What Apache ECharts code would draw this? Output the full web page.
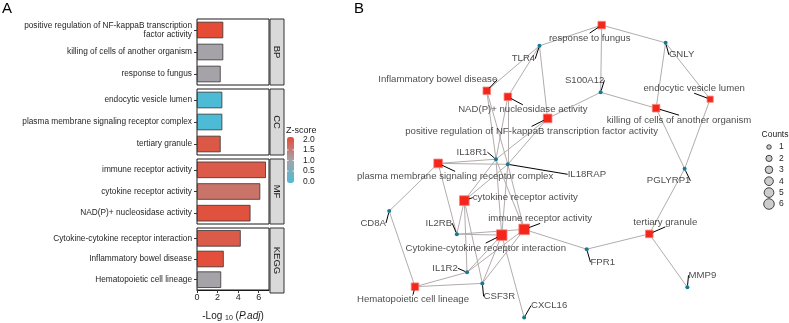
<!DOCTYPE html>
<html>
<head>
<meta charset="utf-8">
<script src="https://cdn.jsdelivr.net/npm/echarts@6/dist/echarts.min.js"></script>
<style>html,body{margin:0;padding:0;background:#fff}#chart{width:789px;height:323px}</style>
</head>
<body>
<div id="chart"></div>
<script>
// ---- panel A: enrichment bars ----
var facets = ['BP', 'CC', 'MF', 'KEGG']
var bpTerms = ['positive regulation of NF-kappaB transcription factor activity', 'killing of cells of another organism', 'response to fungus']
var bpLogP = [2.55, 2.55, 2.3]
var bpZ = [2.0, 1.0, 1.0]
var ccTerms = ['endocytic vesicle lumen', 'plasma membrane signaling receptor complex', 'tertiary granule']
var ccLogP = [2.46, 2.46, 2.3]
var ccZ = [0.0, 0.0, 1.85]
var mfTerms = ['immune receptor activity', 'cytokine receptor activity', 'NAD(P)+ nucleosidase activity']
var mfLogP = [6.7, 6.15, 5.2]
var mfZ = [1.83, 1.55, 1.92]
var keggTerms = ['Cytokine-cytokine receptor interaction', 'Inflammatory bowel disease', 'Hematopoietic cell lineage']
var keggLogP = [4.25, 2.6, 2.35]
var keggZ = [1.82, 1.95, 1.0]
var xTicks = [0, 2, 4, 6]
var zTicks = [0.0, 0.5, 1.0, 1.5, 2.0]
var countLevels = [1, 2, 3, 4, 5, 6]

// ---- panel B: term-gene network (layout coordinates) ----
var termNodes = ['response to fungus', 'Inflammatory bowel disease', 'NAD(P)+ nucleosidase activity',
  'positive regulation of NF-kappaB transcription factor activity', 'killing of cells of another organism',
  'endocytic vesicle lumen', 'plasma membrane signaling receptor complex', 'cytokine receptor activity',
  'immune receptor activity', 'Cytokine-cytokine receptor interaction', 'Hematopoietic cell lineage', 'tertiary granule']
var termPos = [[65.2, 98.3], [31.4, 76.4], [37.6, 74.4], [49.3, 67.2], [81.2, 70.6], [97.1, 73.6],
  [17.1, 52.2], [24.8, 39.8], [42.4, 30.2], [35.8, 28.3], [10.3, 11.1], [79.2, 28.7]]
var geneNodes = ['TLR4', 'GNLY', 'S100A12', 'IL18R1', 'IL18RAP', 'CD8A', 'IL2RB', 'IL1R2', 'CSF3R', 'CXCL16', 'FPR1', 'PGLYRP1', 'MMP9']
var genePos = [[46.9, 91.4], [84.0, 92.4], [64.9, 75.9], [34.1, 53.6], [37.6, 51.9], [2.7, 36.3], [22.6, 28.6],
  [25.6, 15.9], [30.1, 12.2], [42.4, 0.8], [60.8, 23.6], [89.6, 50.4], [90.4, 10.9]]
var links = [
  ['response to fungus', 'TLR4'], ['response to fungus', 'GNLY'], ['response to fungus', 'S100A12'],
  ['Inflammatory bowel disease', 'TLR4'], ['Inflammatory bowel disease', 'IL18R1'], ['Inflammatory bowel disease', 'IL18RAP'],
  ['NAD(P)+ nucleosidase activity', 'TLR4'], ['NAD(P)+ nucleosidase activity', 'IL18R1'], ['NAD(P)+ nucleosidase activity', 'IL18RAP'],
  ['positive regulation of NF-kappaB transcription factor activity', 'TLR4'], ['positive regulation of NF-kappaB transcription factor activity', 'S100A12'],
  ['positive regulation of NF-kappaB transcription factor activity', 'IL18R1'], ['positive regulation of NF-kappaB transcription factor activity', 'IL18RAP'],
  ['killing of cells of another organism', 'S100A12'], ['killing of cells of another organism', 'GNLY'], ['killing of cells of another organism', 'PGLYRP1'],
  ['endocytic vesicle lumen', 'GNLY'], ['endocytic vesicle lumen', 'PGLYRP1'],
  ['plasma membrane signaling receptor complex', 'IL18R1'], ['plasma membrane signaling receptor complex', 'IL18RAP'],
  ['plasma membrane signaling receptor complex', 'CD8A'], ['plasma membrane signaling receptor complex', 'IL2RB'],
  ['cytokine receptor activity', 'IL18R1'], ['cytokine receptor activity', 'IL18RAP'], ['cytokine receptor activity', 'IL2RB'],
  ['cytokine receptor activity', 'IL1R2'], ['cytokine receptor activity', 'CSF3R'],
  ['immune receptor activity', 'IL18R1'], ['immune receptor activity', 'IL18RAP'], ['immune receptor activity', 'IL2RB'],
  ['immune receptor activity', 'IL1R2'], ['immune receptor activity', 'CSF3R'], ['immune receptor activity', 'FPR1'],
  ['Cytokine-cytokine receptor interaction', 'IL18R1'], ['Cytokine-cytokine receptor interaction', 'IL18RAP'], ['Cytokine-cytokine receptor interaction', 'IL2RB'],
  ['Cytokine-cytokine receptor interaction', 'IL1R2'], ['Cytokine-cytokine receptor interaction', 'CSF3R'], ['Cytokine-cytokine receptor interaction', 'CXCL16'],
  ['Hematopoietic cell lineage', 'CD8A'], ['Hematopoietic cell lineage', 'IL1R2'], ['Hematopoietic cell lineage', 'CSF3R'],
  ['tertiary granule', 'PGLYRP1'], ['tertiary granule', 'FPR1'], ['tertiary granule', 'MMP9']
]

// label shifts (px) for repelled labels
var labelShift = {
  'response to fungus': [-12, 13], 'Inflammatory bowel disease': [-49, -11], 'NAD(P)+ nucleosidase activity': [15, 13],
  'positive regulation of NF-kappaB transcription factor activity': [-16, 13], 'killing of cells of another organism': [23, 12],
  'endocytic vesicle lumen': [-16, -11], 'plasma membrane signaling receptor complex': [17, 13],
  'cytokine receptor activity': [61, -3], 'immune receptor activity': [16, -11], 'Cytokine-cytokine receptor interaction': [-16, 13],
  'Hematopoietic cell lineage': [-2, 13], 'tertiary granule': [16, -12],
  TLR4: [-16, 13], GNLY: [16, 12], S100A12: [-16, -12], IL18R1: [-24, -7], IL18RAP: [79, 10], CD8A: [-16, 12],
  IL2RB: [-18, -11], IL1R2: [-22, -4], CSF3R: [17, 13], CXCL16: [25, -12], FPR1: [16, 13], PGLYRP1: [-16, 12], MMP9: [15, -12]
}

var FONT = 'Liberation Sans, Arial, Helvetica, sans-serif'
var TXT = '#262626'
var chart = echarts.init(document.getElementById('chart'))

var facetTerms = [bpTerms, ccTerms, mfTerms, keggTerms]
var facetLogP = [bpLogP, ccLogP, mfLogP, keggLogP]
var facetZ = [bpZ, ccZ, mfZ, keggZ]
var tops = [19, 89, 159, 228]
var heights = [66, 66, 65, 65]

function wrap (s) {
  if (s.length < 45) return s
  var cut = s.lastIndexOf(' ', 46)
  return s.slice(0, cut) + '\n' + s.slice(cut + 1)
}
function sizeOf (c) {
  return 4.5 + (Math.sqrt(c) - 1) * 4.2
}

var termCount = {}
links.forEach(function (l) { termCount[l[0]] = (termCount[l[0]] || 0) + 1 })

var grids = []
var xAxes = []
var yAxes = []
var series = []
var graphics = []

facets.forEach(function (f, i) {
  var last = i === facets.length - 1
  grids.push({ left: 197, width: 72, top: tops[i], height: heights[i], show: true, borderColor: '#1a1a1a', borderWidth: 1, backgroundColor: '#fff' })
  xAxes.push({
    gridIndex: i, type: 'value', min: 0, max: 7, show: last,
    splitLine: { show: false },
    axisLine: { show: true, lineStyle: { color: '#1a1a1a' } },
    axisTick: { show: true, length: 3, customValues: xTicks, lineStyle: { color: '#333' } },
    axisLabel: { customValues: xTicks, fontSize: 9, color: TXT, margin: 3, fontFamily: FONT },
    name: '-Log {s|10} ({i|P.adj})', nameLocation: 'middle', nameGap: 20,
    nameTextStyle: {
      fontSize: 10, color: '#1a1a1a', fontFamily: FONT,
      rich: { s: { fontSize: 7, padding: [5, 0, 0, 0], fontFamily: FONT, color: '#1a1a1a' }, i: { fontSize: 10, fontStyle: 'italic', fontFamily: FONT, color: '#1a1a1a' } }
    }
  })
  yAxes.push({
    gridIndex: i, type: 'category', data: facetTerms[i], inverse: true,
    axisLine: { show: false },
    axisTick: { show: true, length: 3, alignWithLabel: true, lineStyle: { color: '#333' } },
    axisLabel: { formatter: wrap, fontSize: 8.3, color: TXT, margin: 5, lineHeight: 9.5, fontFamily: FONT }
  })
  series.push({
    type: 'bar', xAxisIndex: i, yAxisIndex: i, barWidth: 16.5, silent: true,
    data: facetTerms[i].map(function (t, j) { return [facetLogP[i][j], t, facetZ[i][j]] }),
    encode: { x: 0, y: 1 },
    itemStyle: { borderColor: '#333', borderWidth: 0.8 }
  })
  // facet strip
  graphics.push({ type: 'rect', shape: { x: 270, y: tops[i], width: 14, height: heights[i] }, style: { fill: '#D9D9D9', stroke: '#333', lineWidth: 1 } })
  graphics.push({
    type: 'text', x: 277, y: tops[i] + heights[i] / 2, rotation: -Math.PI / 2,
    style: { text: f, fontSize: 9.5, fontFamily: FONT, fill: '#1a1a1a', align: 'center', verticalAlign: 'middle' }
  })
})

// z-score legend labels and white ticks on the colour bar
graphics.push({ type: 'text', x: 286, y: 131, style: { text: 'Z-score', fontSize: 9, fontFamily: FONT, fill: '#1a1a1a', verticalAlign: 'middle' } })
zTicks.forEach(function (v) {
  var ty = 181.7 - v / 2 * 42.4
  graphics.push({ type: 'text', x: 303, y: ty, style: { text: v.toFixed(1), fontSize: 8.5, fontFamily: FONT, fill: TXT, verticalAlign: 'middle' } })
  if (v > 0 && v < 2) {
    graphics.push({ type: 'line', z: 100, shape: { x1: 287, y1: ty, x2: 288.5, y2: ty }, style: { stroke: '#fff', lineWidth: 0.8 } })
    graphics.push({ type: 'line', z: 100, shape: { x1: 292.5, y1: ty, x2: 294, y2: ty }, style: { stroke: '#fff', lineWidth: 0.8 } })
  }
})

// counts legend
graphics.push({ type: 'text', x: 775, y: 135, style: { text: 'Counts', fontSize: 8.5, fontFamily: FONT, fill: '#1a1a1a', align: 'center', verticalAlign: 'middle' } })
countLevels.forEach(function (c, k) {
  var cy = 147 + k * 11.4
  graphics.push({ type: 'circle', shape: { cx: 769, cy: cy, r: sizeOf(c) / 2 }, style: { fill: '#CCCCCC', stroke: '#1a1a1a', lineWidth: 0.8 } })
  graphics.push({ type: 'text', x: 779, y: cy, style: { text: String(c), fontSize: 8.5, fontFamily: FONT, fill: TXT, verticalAlign: 'middle' } })
})

// panel letters
graphics.push({ type: 'text', x: 2, y: 1, style: { text: 'A', fontSize: 15, fontFamily: FONT, fill: '#000' } })
graphics.push({ type: 'text', x: 354, y: 1, style: { text: 'B', fontSize: 15, fontFamily: FONT, fill: '#000' } })

// panel B grid
grids.push({ left: 380, top: 20, width: 340, height: 300, show: false })
xAxes.push({ gridIndex: 4, type: 'value', min: 0, max: 100, show: false })
yAxes.push({ gridIndex: 4, type: 'value', min: 0, max: 100, show: false })

var nodes = termNodes.map(function (n, i) {
  return { name: n, value: termPos[i], symbol: 'rect', symbolSize: sizeOf(termCount[n]), itemStyle: { color: '#F5261C', borderColor: '#F8857C', borderWidth: 0.8 } }
}).concat(geneNodes.map(function (g, i) {
  return { name: g, value: genePos[i], symbol: 'circle', symbolSize: 4, itemStyle: { color: '#187A92' } }
}))

series.push({
  type: 'graph', layout: 'none', coordinateSystem: 'cartesian2d', xAxisIndex: 4, yAxisIndex: 4,
  data: nodes, silent: true, z: 3,
  links: links.map(function (l) { return { source: l[0], target: l[1] } }),
  lineStyle: { color: '#B3ACAC', width: 1, opacity: 1, curveness: 0 },
  label: { show: false }
})

series.push({
  type: 'scatter', xAxisIndex: 4, yAxisIndex: 4, silent: true, z: 5,
  data: nodes.map(function (n) { return { name: n.name, value: n.value, symbolSize: n.symbolSize } }),
  itemStyle: { color: 'rgba(0,0,0,0)' },
  label: { show: true, formatter: '{b}', position: 'inside', fontSize: 9.6, color: '#1a1a1a', fontFamily: FONT },
  labelLayout: function (p) {
    var s = labelShift[nodes[p.dataIndex].name] || [0, 0]
    return {
      x: p.rect.x + p.rect.width / 2 + s[0],
      y: p.rect.y + p.rect.height / 2 + s[1],
      align: 'center', verticalAlign: 'middle'
    }
  },
  labelLine: { show: true, lineStyle: { color: '#000', width: 1 } }
})

chart.setOption({
  animation: false,
  backgroundColor: '#fff',
  textStyle: { fontFamily: FONT },
  grid: grids,
  xAxis: xAxes,
  yAxis: yAxes,
  visualMap: {
    type: 'continuous', min: 0, max: 2, dimension: 2, seriesIndex: [0, 1, 2, 3],
    show: true, calculable: false, orient: 'vertical', left: 287, top: 137,
    itemWidth: 7, itemHeight: 46, padding: 0, text: null,
    inRange: { color: ['#4DBBD5', '#A5A3A8', '#E64B35'] }
  },
  graphic: graphics,
  series: series
})
</script>
</body>
</html>
